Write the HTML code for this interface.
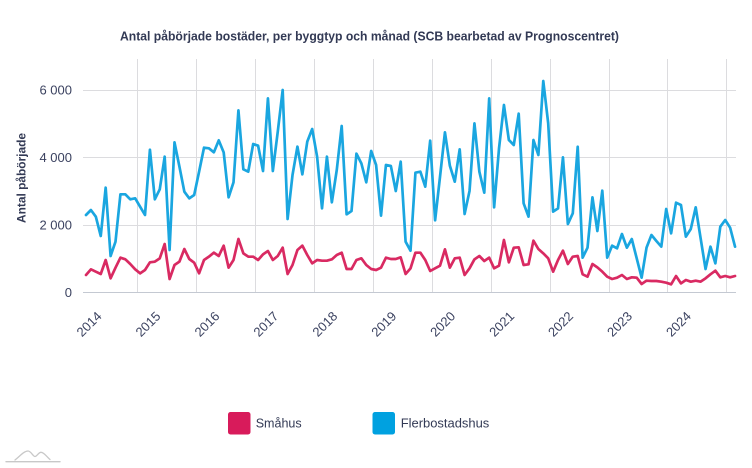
<!DOCTYPE html>
<html>
<head>
<meta charset="utf-8">
<style>
  html,body{margin:0;padding:0;background:#ffffff;}
  body{width:752px;height:468px;overflow:hidden;}
  svg{display:block;}
  text{font-family:"Liberation Sans", Arial, sans-serif;}
</style>
</head>
<body>
<svg width="752" height="468" viewBox="0 0 752 468" xmlns="http://www.w3.org/2000/svg">
  <rect x="0" y="0" width="752" height="468" fill="#ffffff"/>

  <!-- Title -->
  <text x="369.5" y="40.5" text-anchor="middle" font-size="12.5" font-weight="bold" fill="#333a55" textLength="499" lengthAdjust="spacingAndGlyphs">Antal påbörjade bostäder, per byggtyp och månad (SCB bearbetad av Prognoscentret)</text>

  <!-- Vertical grid lines -->
  <g stroke="#dcdcdf" stroke-width="1">
    <line x1="137.5" y1="59" x2="137.5" y2="292"/>
    <line x1="196.5" y1="59" x2="196.5" y2="292"/>
    <line x1="255.5" y1="59" x2="255.5" y2="292"/>
    <line x1="314.5" y1="59" x2="314.5" y2="292"/>
    <line x1="373.5" y1="59" x2="373.5" y2="292"/>
    <line x1="432.5" y1="59" x2="432.5" y2="292"/>
    <line x1="491.5" y1="59" x2="491.5" y2="292"/>
    <line x1="550.5" y1="59" x2="550.5" y2="292"/>
    <line x1="609.5" y1="59" x2="609.5" y2="292"/>
    <line x1="667.5" y1="59" x2="667.5" y2="292"/>
    <line x1="726.5" y1="59" x2="726.5" y2="292"/>
  </g>
  <!-- Horizontal grid lines -->
  <g stroke="#dcdcdf" stroke-width="1">
    <line x1="83" y1="90.5" x2="736" y2="90.5"/>
    <line x1="83" y1="157.5" x2="736" y2="157.5"/>
    <line x1="83" y1="225.5" x2="736" y2="225.5"/>
  </g>
  <line x1="83" y1="292.5" x2="736" y2="292.5" stroke="#c4c9d2" stroke-width="1"/>

  <!-- Y axis labels -->
  <g font-size="13" fill="#3b4260" text-anchor="end">
    <text x="72" y="94.7">6 000</text>
    <text x="72" y="162">4 000</text>
    <text x="72" y="229.5">2 000</text>
    <text x="72" y="296.8">0</text>
  </g>

  <!-- Y axis title -->
  <text transform="translate(25.5,178) rotate(-90)" text-anchor="middle" font-size="12" font-weight="bold" fill="#333a55" textLength="90" lengthAdjust="spacingAndGlyphs">Antal påbörjade</text>

  <!-- X axis labels -->
  <g font-size="13" fill="#3b4260" text-anchor="end">
    <text transform="translate(102.5,317) rotate(-45)">2014</text>
    <text transform="translate(161.4,317) rotate(-45)">2015</text>
    <text transform="translate(220.4,317) rotate(-45)">2016</text>
    <text transform="translate(279.3,317) rotate(-45)">2017</text>
    <text transform="translate(338.3,317) rotate(-45)">2018</text>
    <text transform="translate(397.2,317) rotate(-45)">2019</text>
    <text transform="translate(456.1,317) rotate(-45)">2020</text>
    <text transform="translate(515.1,317) rotate(-45)">2021</text>
    <text transform="translate(574.0,317) rotate(-45)">2022</text>
    <text transform="translate(633.0,317) rotate(-45)">2023</text>
    <text transform="translate(691.9,317) rotate(-45)">2024</text>
  </g>

  <!-- Series: Flerbostadshus (blue) -->
  <polyline transform="matrix(4.917 0 0 0.333333 86 75)" vector-effect="non-scaling-stroke"
    fill="none" stroke="#1aa6e0" stroke-width="2.7" stroke-linejoin="round" stroke-linecap="round"
    points="0,420 1,405 2,425 3,483 4,338 5,543 6,500 7,358 8,358 9,373 10,370 11,395 12,420 13,224 14,373 15,343 16,245 17,525 18,202 19,275 20,350 21,370 22,360 23,290 24,218 25,220 26,232 27,196 28,232 29,367 30,322 31,106 32,283 33,290 34,207 35,212 36,288 37,70 38,288 39,170 40,45 41,432 42,300 43,215 44,298 45,200 46,162 47,245 48,400 49,245 50,382 51,285 52,153 53,418 54,408 55,236 56,265 57,322 58,228 59,270 60,422 61,270 62,273 63,348 64,260 65,500 66,527 67,293 68,290 69,335 70,197 71,436 72,305 73,172 74,272 75,320 76,223 77,417 78,348 79,145 80,290 81,353 82,70 83,397 84,220 85,90 86,195 87,210 88,116 89,385 90,425 91,195 92,240 93,18 94,145 95,410 96,400 97,247 98,447 99,415 100,215 101,548 102,518 103,367 104,468 105,347 106,548 107,512 108,520 109,477 110,518 111,492 112,550 113,608 114,518 115,480 116,498 117,515 118,402 119,475 120,383 121,390 122,485 123,462 124,397 125,490 126,582 127,515 128,565 129,455 130,435 131,458 132,515"/>

  <!-- Series: Småhus (red) -->
  <polyline transform="matrix(4.917 0 0 0.333333 86 75)" vector-effect="non-scaling-stroke"
    fill="none" stroke="#d92a62" stroke-width="2.7" stroke-linejoin="round" stroke-linecap="round"
    points="0,600 1,583 2,590 3,597 4,555 5,610 6,578 7,548 8,553 9,567 10,583 11,595 12,585 13,562 14,560 15,550 16,507 17,612 18,570 19,560 20,522 21,552 22,563 23,595 24,555 25,545 26,533 27,543 28,512 29,578 30,555 31,492 32,535 33,545 34,545 35,555 36,538 37,528 38,555 39,543 40,518 41,597 42,570 43,525 44,512 45,540 46,565 47,555 48,557 49,557 50,553 51,540 52,533 53,582 54,582 55,555 56,550 57,570 58,582 59,585 60,578 61,548 62,552 63,552 64,547 65,597 66,580 67,533 68,533 69,555 70,588 71,580 72,572 73,523 74,578 75,550 76,548 77,600 78,580 79,553 80,543 81,558 82,548 83,580 84,572 85,495 86,562 87,518 88,517 89,570 90,568 91,497 92,522 93,535 94,550 95,590 96,555 97,527 98,567 99,545 100,543 101,598 102,605 103,567 104,577 105,590 106,605 107,612 108,608 109,600 110,612 111,607 112,608 113,627 114,617 115,618 116,618 117,620 118,623 119,628 120,603 121,625 122,615 123,620 124,617 125,620 126,610 127,598 128,587 129,607 130,603 131,607 132,603"/>

  <!-- Legend -->
  <rect x="228" y="412" width="22.5" height="22.5" rx="2.5" ry="2.5" fill="#d81b5b"/>
  <text x="255.7" y="427.3" font-size="13" fill="#333a55" textLength="46" lengthAdjust="spacingAndGlyphs">Småhus</text>
  <rect x="372.5" y="412" width="22.5" height="22.5" rx="2.5" ry="2.5" fill="#00a1e0"/>
  <text x="400.7" y="427.3" font-size="13" fill="#333a55" textLength="88.6" lengthAdjust="spacingAndGlyphs">Flerbostadshus</text>

  <!-- Logo (bottom-left) -->
  <g fill="none" stroke="#c8c8c8" stroke-width="1.3" stroke-linecap="round">
    <line x1="6" y1="461.7" x2="60" y2="461.7"/>
    <path d="M15,460 C20,456 24,451 28,451 C31,451 33,456.5 35,456.5 C37,456.5 38.5,452.3 41,452.3 C44,452.3 47,457 50,459.5"/>
  </g>
</svg>
</body>
</html>
